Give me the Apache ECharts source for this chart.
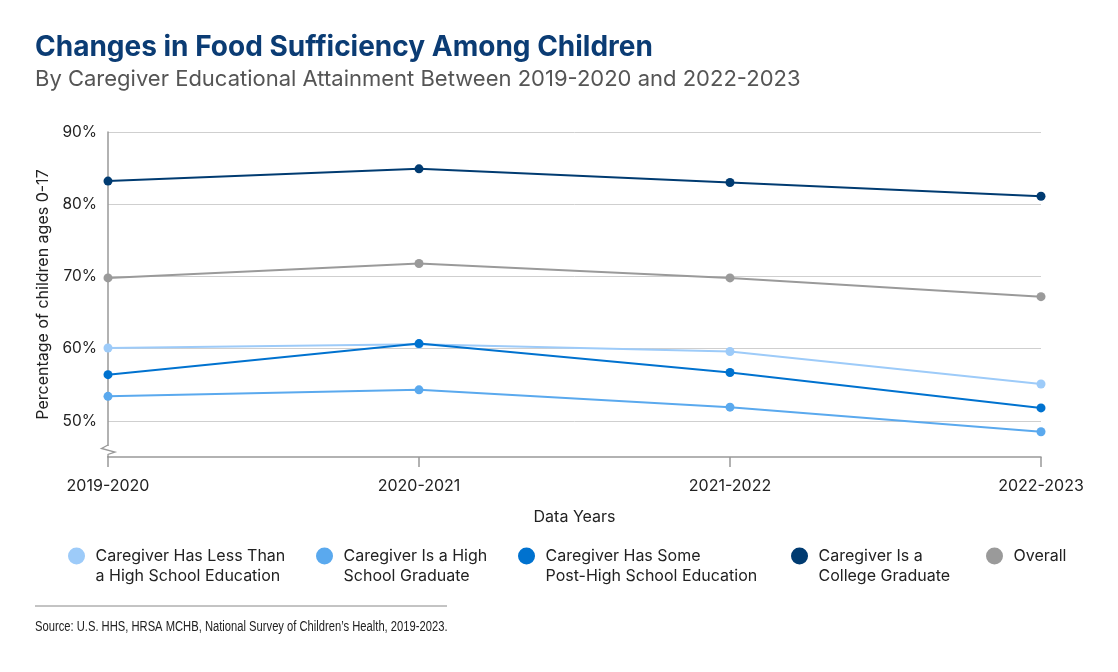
<!DOCTYPE html>
<html><head><meta charset="utf-8">
<script src="https://cdn.jsdelivr.net/npm/echarts@6/dist/echarts.min.js"></script>
<style>html,body{margin:0;padding:0;background:#fff}#c{width:1118px;height:672px}</style>
</head><body><div id="c"></div>
<script>
const categories = ['2019-2020', '2020-2021', '2021-2022', '2022-2023'];
const lessThanHS = [60.1, 60.6, 59.6, 55.1];
const hsGraduate = [53.4, 54.3, 51.9, 48.5];
const somePostHS = [56.4, 60.7, 56.7, 51.8];
const collegeGrad = [83.2, 84.9, 83.0, 81.1];
const overall = [69.8, 71.8, 69.8, 67.2];
const yTicks = [50, 60, 70, 80, 90];
const seriesNames = [
  'Caregiver Has Less Than a High School Education',
  'Caregiver Is a High School Graduate',
  'Caregiver Has Some Post-High School Education',
  'Caregiver Is a College Graduate',
  'Overall'
];
const legendLines = [
  'Caregiver Has Less Than\na High School Education',
  'Caregiver Is a High\nSchool Graduate',
  'Caregiver Has Some\nPost-High School Education',
  'Caregiver Is a\nCollege Graduate',
  'Overall'
];
const colors = ['#9dcbf9', '#5aa9ee', '#0072cf', '#003b71', '#9a9a9a'];
const values = [lessThanHS, hsGraduate, somePostHS, collegeGrad, overall];
const legendLeft = [68, 316, 518, 791, 986];

// circle icon sitting at the top of a taller box, with a little room on its right
const iconTwoLine = 'path://M10,0L10,0.01M25.88,47L25.88,47.01M0,11.76A10,10,0,1,1,20,11.76A10,10,0,1,1,0,11.76Z';
const iconOneLine = 'path://M25.88,0L25.88,0.01M0,10A10,10,0,1,1,20,10A10,10,0,1,1,0,10Z';

const FONT = 'Inter, "Noto Sans", sans-serif';
const chart = echarts.init(document.getElementById('c'));
chart.setOption({
  animation: false,
  textStyle: { fontFamily: FONT },
  title: [
    { text: 'Changes in Food Sufficiency Among Children', left: 35, top: 34, padding: 0,
      textStyle: { fontFamily: FONT, fontSize: 28, fontWeight: 'bold', color: '#0b3c74' } },
    { text: 'By Caregiver Educational Attainment Between 2019-2020 and 2022-2023', left: 35, top: 68, padding: 0,
      textStyle: { fontFamily: FONT, fontSize: 22, fontWeight: 'normal', color: '#555555' } }
  ],
  grid: { left: 108, right: 77, top: 132, bottom: 215 },
  xAxis: {
    type: 'category', data: categories, boundaryGap: false,
    name: 'Data Years', nameLocation: 'middle', nameGap: 52,
    nameTextStyle: { fontSize: 16, color: '#222' },
    axisLine: { lineStyle: { color: '#999', width: 1.5 } },
    axisTick: { show: true, length: 10, lineStyle: { color: '#999', width: 1.5 } },
    axisLabel: { fontSize: 16, color: '#222', margin: 21 },
    splitLine: { show: false }
  },
  yAxis: {
    type: 'value', min: 45, max: 90, interval: 5,
    name: 'Percentage of children ages 0-17', nameLocation: 'middle', nameGap: 57,
    nameTextStyle: { fontSize: 16, color: '#222' },
    axisLine: { show: true, lineStyle: { color: '#999', width: 1.5 } },
    axisTick: { show: false, customValues: yTicks },
    axisLabel: { customValues: yTicks, formatter: '{value}%', fontSize: 15.5, color: '#222', margin: 11 },
    splitLine: { show: true, lineStyle: { color: '#cfcfcf', width: 1 } }
  },
  legend: seriesNames.map((n, i) => ({
    data: [n], left: legendLeft[i], top: 546, padding: 0,
    icon: i === 4 ? iconOneLine : iconTwoLine,
    itemWidth: 23, itemHeight: i === 4 ? 17 : 40,
    itemStyle: { borderWidth: 0 },
    formatter: () => legendLines[i],
    textStyle: { fontSize: 16, color: '#222', lineHeight: 20 },
    selectedMode: false
  })),
  series: seriesNames.map((n, i) => ({
    name: n, type: 'line', data: values[i],
    symbol: 'circle', symbolSize: 9,
    itemStyle: { color: colors[i] },
    lineStyle: { color: colors[i], width: 2 },
    z: 2 + i
  })),
  graphic: [
    { type: 'rect', shape: { x: 105, y: 446, width: 6, height: 10 }, style: { fill: '#fff' }, z: 100 },
    { type: 'polyline', shape: { points: [[108, 445], [101.5, 448.5], [115, 452], [108, 454.5], [108, 457]] },
      style: { stroke: '#999', lineWidth: 1.3, fill: null }, z: 101 },
    { type: 'line', shape: { x1: 35, y1: 606, x2: 447, y2: 606 }, style: { stroke: '#888', lineWidth: 1 } },
    { type: 'text', x: 35, y: 620, scaleX: 0.8, originX: 0,
      style: { text: 'Source: U.S. HHS, HRSA MCHB, National Survey of Children\u2019s Health, 2019-2023.',
        font: '14px "Liberation Sans", Arial, sans-serif', fill: '#222' } }
  ]
});
</script></body></html>
